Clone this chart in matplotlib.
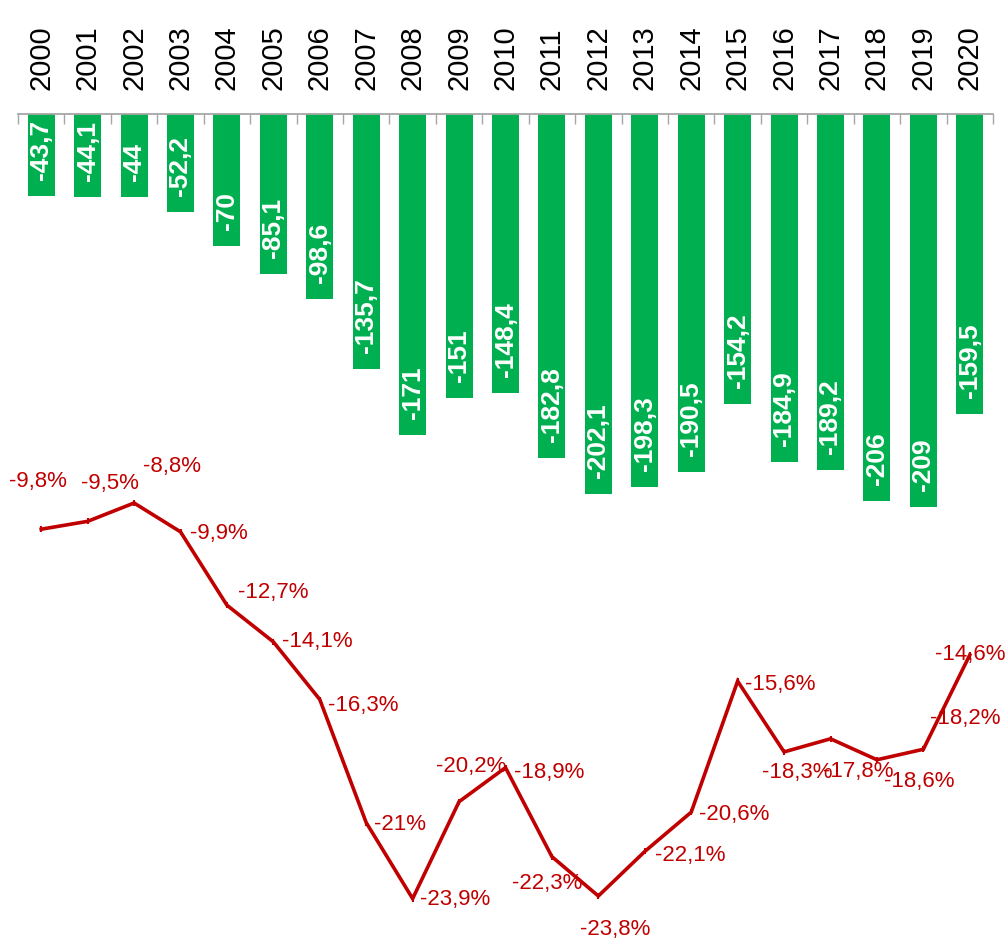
import matplotlib
matplotlib.use("Agg")
import matplotlib.pyplot as plt
import numpy as np

years = [str(y) for y in range(2000, 2021)]
balance = [-43.7, -44.1, -44, -52.2, -70, -85.1, -98.6, -135.7, -171, -151, -148.4,
           -182.8, -202.1, -198.3, -190.5, -154.2, -184.9, -189.2, -206, -209, -159.5]
share_pct = [-9.8, -9.5, -8.8, -9.9, -12.7, -14.1, -16.3, -21, -23.9, -20.2, -18.9,
             -22.3, -23.8, -22.1, -20.6, -15.6, -18.3, -17.8, -18.6, -18.2, -14.6]

# label placement (pixel offsets from each point) - layout only
label_offsets = [(-3, 48), (22, 38), (38, 37), (38, -2), (46, 13), (44, 0), (43, -6),
                 (34, -2), (42, -1), (12, 35), (44, -5), (-5, -27), (17, -33), (45, -4),
                 (43, -2), (43, -3), (13, -21), (28, -33), (42, -22), (42, 31), (0, 0)]

GREEN = "#00B050"
RED = "#C00000"
GRAY = "#A6A6A6"

W, H = 1005, 947
fig = plt.figure(figsize=(W / 100, H / 100), dpi=100)

def fax(left, top, right, bottom):
    return fig.add_axes([left / W, 1 - bottom / H, (right - left) / W, (bottom - top) / H])

x = np.arange(len(years))

# ---- bars ----
axb = fax(18, 114, 993, 114 + 230 * 1.88)
axb.set_xlim(-0.5, len(years) - 0.5)
axb.set_ylim(-230, 0)
axb.patch.set_alpha(0)
for s in ["left", "right", "bottom"]:
    axb.spines[s].set_visible(False)
axb.spines["top"].set_color(GRAY)
axb.spines["top"].set_linewidth(1.3)
axb.set_yticks([])
axb.xaxis.tick_top()
axb.set_xticks(np.arange(-0.5, len(years), 1.0))
axb.set_xticklabels([])
axb.tick_params(axis="x", which="major", direction="in", length=7, width=1.0, color=GRAY)
axb.set_xticks(x, minor=True)
axb.set_xticklabels(years, minor=True, rotation=90, fontsize=21,
                    family=["Liberation Sans", "DejaVu Sans"])
axb.tick_params(axis="x", which="minor", length=0, pad=17, labelcolor="black")

bars = axb.bar(x, balance, width=0.58, color=GREEN, zorder=2)
for xi, v, b in zip(x, balance, bars):
    lbl = f"{v:g}".replace(".", ",")
    t = axb.annotate(lbl, xy=(xi, v), xytext=(0, 16), textcoords="offset pixels",
                     rotation=90, ha="center", va="bottom", color="white",
                     fontsize=19, fontweight="bold",
                     family=["Liberation Sans", "DejaVu Sans"], zorder=3)
    t.set_clip_path(b)

# ---- line ----
axl = fax(18, 503 - 1.8 * 26.2, 993, 503 - 1.8 * 26.2 + 18.5 * 26.2)
axl.set_xlim(-0.5, len(years) - 0.5)
axl.set_ylim(-25.5, -7)
axl.axis("off")
axl.patch.set_alpha(0)
axl.plot(x, share_pct, color=RED, lw=2.6, solid_joinstyle="miter",
         marker="|", markersize=4, markeredgewidth=1.5)
for xi, v, (dx, dy) in zip(x, share_pct, label_offsets):
    lbl = f"{v:g}".replace(".", ",") + "%"
    axl.annotate(lbl, xy=(xi, v), xytext=(dx, dy), textcoords="offset pixels",
                 ha="center", va="center", color=RED, fontsize=16,
                 family=["Liberation Sans", "DejaVu Sans"],
                 annotation_clip=False)

fig.savefig("out.png", dpi=100)
